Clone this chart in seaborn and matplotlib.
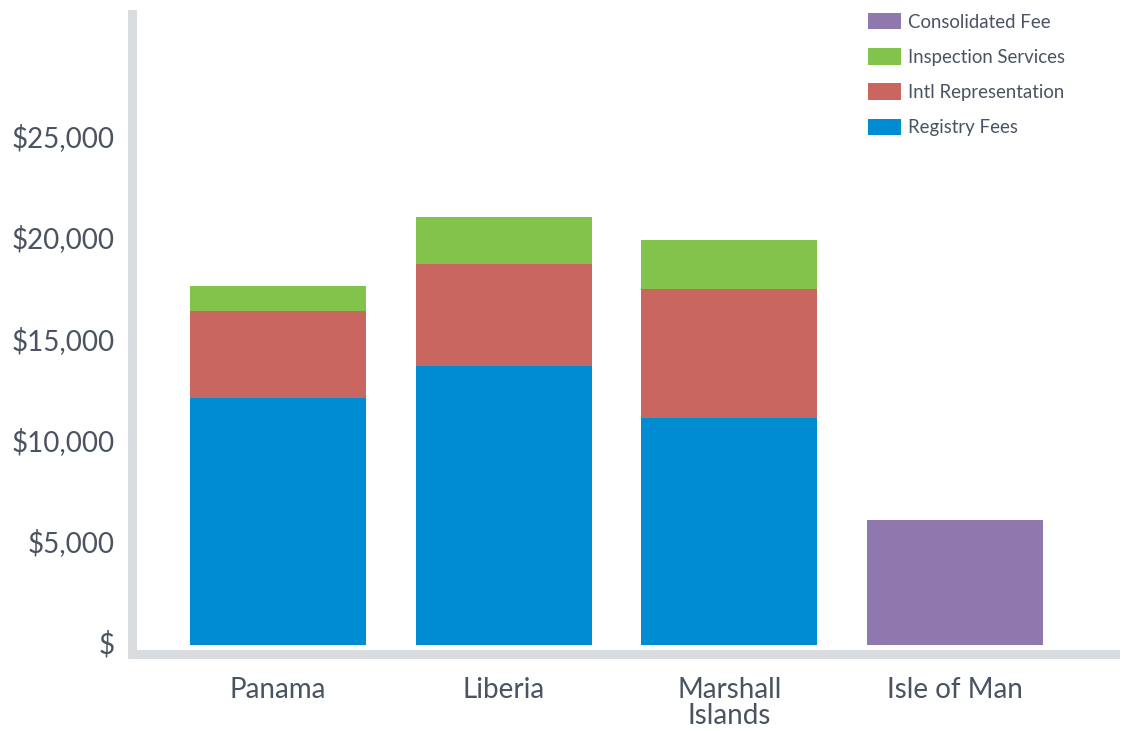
import matplotlib
matplotlib.use("Agg")
import matplotlib.pyplot as plt
import matplotlib.ticker as mticker
import matplotlib.transforms as mtransforms
from matplotlib.patches import Patch
import seaborn as sns
import pandas as pd
import numpy as np

countries = ["Panama", "Liberia", "Marshall Islands", "Isle of Man"]
tick_labels = ["Panama", "Liberia", "Marshall\nIslands", "Isle of Man"]
registry_fees = [12200, 13750, 11200, 0]
intl_representation = [4300, 5050, 6350, 0]
inspection_services = [1200, 2350, 2450, 0]
consolidated_fee = [0, 0, 0, 6150]

series_names = ["Registry Fees", "Intl Representation", "Inspection Services", "Consolidated Fee"]
series_colors = ["#008CD3", "#C8665F", "#82C34B", "#8F78AD"]
text_color = "#4A5361"
spine_color = "#DADDE0"

sns.set_theme(style="white")
plt.rcParams["font.family"] = ["Lato", "DejaVu Sans"]

df = pd.DataFrame({
    "country": countries,
    "Registry Fees": registry_fees,
    "Intl Representation": intl_representation,
    "Inspection Services": inspection_services,
    "Consolidated Fee": consolidated_fee,
})
cum = df[series_names].cumsum(axis=1)

fig = plt.figure(figsize=(11.30, 7.31), dpi=100)
ax = fig.add_axes([0.1164, 0.1047, 0.9867 - 0.1164, 0.9808 - 0.1047])

# draw from top of stack down so lower layers overlay upper ones
for name, color in reversed(list(zip(series_names, series_colors))):
    plot_df = pd.DataFrame({"country": df["country"], "value": cum[name]})
    sns.barplot(data=plot_df, x="country", y="value", order=countries,
                color=color, saturation=1, width=0.78, linewidth=0,
                edgecolor="none", ax=ax, zorder=2)

ax.set_xlim(-0.65, 3.71)
ax.set_ylim(-470, 31150)
ax.set_yticks([0, 5000, 10000, 15000, 20000, 25000])
ax.yaxis.set_major_formatter(mticker.FuncFormatter(
    lambda v, p: "$" if v == 0 else "${:,.0f}".format(v)))
ax.set_xticks(range(len(countries)))
ax.set_xticklabels(tick_labels, linespacing=1.02)
ax.set_xlabel("")
ax.set_ylabel("")

for s in ["top", "right"]:
    ax.spines[s].set_visible(False)
for s in ["left", "bottom"]:
    ax.spines[s].set_color(spine_color)
    ax.spines[s].set_linewidth(6.5)
    ax.spines[s].set_zorder(3)

ax.tick_params(axis="both", length=0, labelsize=20, colors=text_color)
ax.tick_params(axis="y", pad=12)
ax.tick_params(axis="x", pad=16)

shift_up = mtransforms.ScaledTranslation(0, 3 / 100, fig.dpi_scale_trans)
for lbl in ax.get_yticklabels():
    lbl.set_transform(lbl.get_transform() + shift_up)

handles = [Patch(facecolor=c, edgecolor="none", label=n)
           for n, c in zip(series_names, series_colors)][::-1]
leg = fig.legend(handles=handles, loc="upper left",
                 bbox_to_anchor=(868 / 1130, 1 - 13 / 731),
                 frameon=False, fontsize=13.4, borderpad=0, borderaxespad=0,
                 handlelength=1.78, handleheight=0.97, handletextpad=0.38,
                 labelspacing=0.95)
for t in leg.get_texts():
    t.set_color(text_color)

fig.savefig("out.png", dpi=100)
